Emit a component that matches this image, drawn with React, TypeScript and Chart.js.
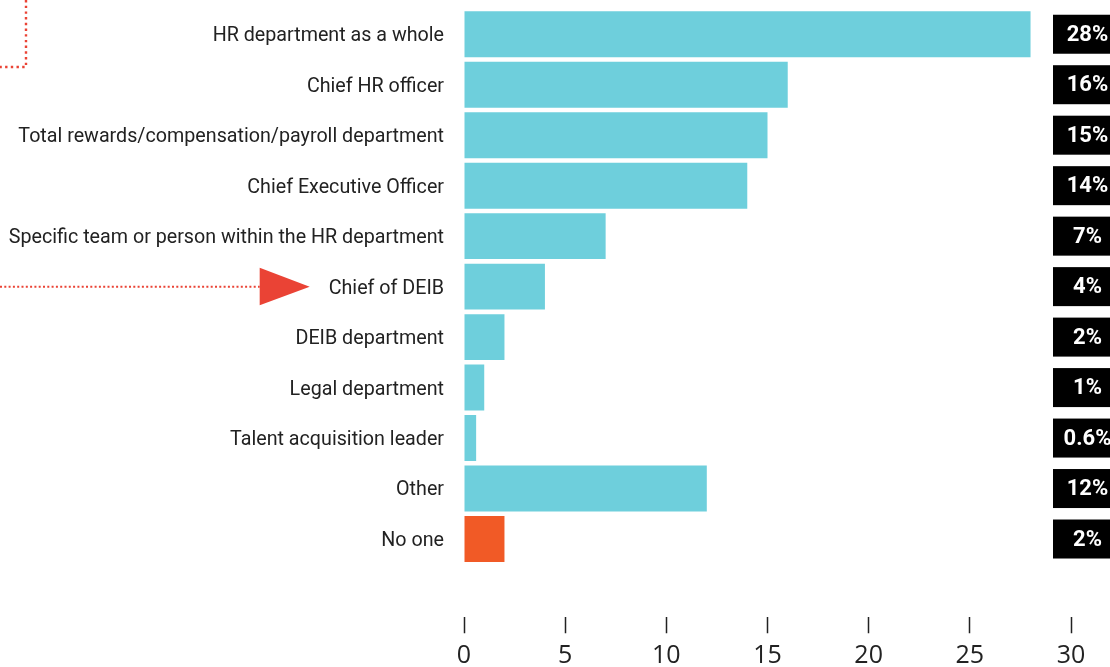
import React, { useEffect, useRef } from 'react';
import { Chart, registerables } from 'chart.js';

Chart.register(...registerables);

// Who is responsible for the initiative (share of respondents, %)
const categories = [
  'HR department as a whole',
  'Chief HR officer',
  'Total rewards/compensation/payroll department',
  'Chief Executive Officer',
  'Specific team or person within the HR department',
  'Chief of DEIB',
  'DEIB department',
  'Legal department',
  'Talent acquisition leader',
  'Other',
  'No one',
];
const shares = [28, 16, 15, 14, 7, 4, 2, 1, 0.6, 12, 2];
const highlightedCategory = 'Chief of DEIB';
const noOneCategory = 'No one';

const axisMin = 0;
const axisMax = 30;
const axisStep = 5;

const TEAL = '#6ecfdc';
const ORANGE = '#f15a26';
const RED = '#ea4335';
const INK = '#222222';

const LABEL_FONT = { family: 'Roboto', size: 19.7 };
const TICK_FONT = { family: '"Open Sans"', size: 25 };

// Black value boxes placed to the right of the plot
const valueBoxes = {
  id: 'valueBoxes',
  afterDatasetsDraw(chart: any) {
    const { ctx, chartArea } = chart;
    const meta = chart.getDatasetMeta(0);
    const boxLeft = chartArea.right - 18;
    const boxW = 70;
    const boxH = 39;
    const cx = chartArea.right + 16.5;
    ctx.save();
    meta.data.forEach((bar: any, i: number) => {
      const y = bar.y;
      ctx.fillStyle = '#000000';
      ctx.fillRect(boxLeft, y - boxH / 2, boxW, boxH);
      ctx.fillStyle = '#ffffff';
      ctx.font = 'bold 22px Roboto';
      ctx.textAlign = 'center';
      ctx.textBaseline = 'middle';
      ctx.fillText(`${shares[i]}%`, cx, y + 1);
    });
    ctx.restore();
  },
};

// Dotted red callouts: corner bracket and arrow to the highlighted row
const callouts = {
  id: 'callouts',
  afterDraw(chart: any) {
    const { ctx, scales } = chart;
    const yScale = scales.y;
    const idx = categories.indexOf(highlightedCategory);
    const y = yScale.getPixelForValue(idx);

    ctx.save();
    ctx.font = `${LABEL_FONT.size}px ${LABEL_FONT.family}`;
    const labelRight = yScale.right - 20;
    const labelLeft = labelRight - ctx.measureText(highlightedCategory).width;
    const tipX = labelLeft - 19;
    const baseX = tipX - 50;

    ctx.strokeStyle = RED;
    ctx.lineWidth = 2;
    ctx.setLineDash([2, 2.3]);
    ctx.beginPath();
    ctx.moveTo(0, y);
    ctx.lineTo(baseX, y);
    ctx.stroke();

    ctx.setLineDash([]);
    ctx.fillStyle = RED;
    ctx.beginPath();
    ctx.moveTo(baseX, y - 19);
    ctx.lineTo(tipX, y);
    ctx.lineTo(baseX, y + 18.5);
    ctx.closePath();
    ctx.fill();

    // corner bracket at the top left
    ctx.lineWidth = 2.4;
    ctx.setLineDash([2.4, 3.3]);
    ctx.beginPath();
    ctx.moveTo(26, 0);
    ctx.lineTo(26, 67);
    ctx.lineTo(0, 67);
    ctx.stroke();
    ctx.restore();
  },
};

export default function App() {
  const canvasRef = useRef<HTMLCanvasElement | null>(null);

  useEffect(() => {
    if (!canvasRef.current) return;
    const chart = new Chart(canvasRef.current, {
      type: 'bar',
      data: {
        labels: categories,
        datasets: [
          {
            data: shares,
            backgroundColor: categories.map((c) => (c === noOneCategory ? ORANGE : TEAL)),
            borderWidth: 0,
            barPercentage: 0.91,
            categoryPercentage: 1,
          },
        ],
      },
      options: {
        indexAxis: 'y',
        animation: false,
        responsive: true,
        maintainAspectRatio: false,
        layout: { padding: { top: 9, right: 39, bottom: 0, left: 0 } },
        plugins: {
          legend: { display: false },
          tooltip: { enabled: false },
        },
        scales: {
          y: {
            type: 'category',
            offset: true,
            border: { display: false },
            grid: { display: false, drawTicks: false },
            ticks: {
              color: INK,
              font: LABEL_FONT,
              padding: 20,
              labelOffset: 2,
              autoSkip: false,
            },
            afterFit(scale: any) {
              scale.width = 464;
              scale.paddingTop = 0;
              scale.paddingBottom = 0;
            },
          },
          x: {
            type: 'linear',
            position: 'bottom',
            min: axisMin,
            max: axisMax,
            border: { display: false },
            grid: {
              display: true,
              drawOnChartArea: false,
              drawTicks: true,
              tickLength: 69,
              tickBorderDash: [0, 53, 16],
              tickColor: INK,
              tickWidth: 1.5,
            },
            ticks: {
              stepSize: axisStep,
              color: INK,
              font: TICK_FONT,
              padding: 8,
            },
            afterFit(scale: any) {
              scale.height = 102.75;
              scale.paddingLeft = 0;
              scale.paddingRight = 0;
            },
          },
        },
      },
      plugins: [valueBoxes, callouts],
    });
    return () => chart.destroy();
  }, []);

  return (
    <div style={{ position: 'fixed', left: 0, top: 0, width: 1110, height: 667, overflow: 'hidden', background: '#ffffff' }}>
      <canvas ref={canvasRef} />
    </div>
  );
}
